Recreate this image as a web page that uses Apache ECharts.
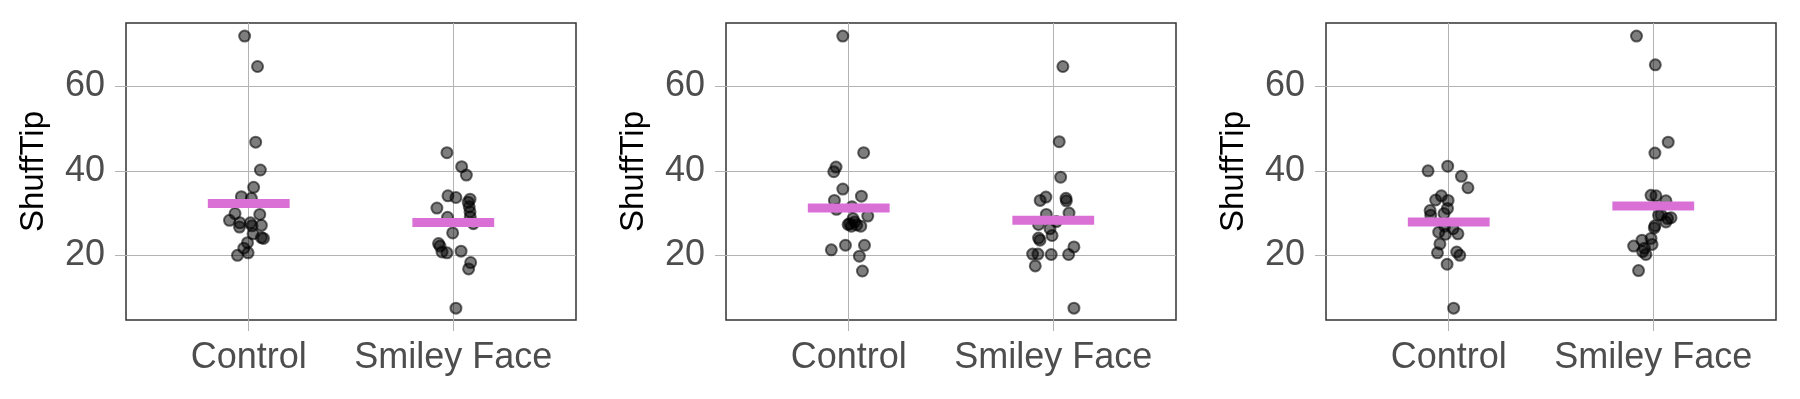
<!DOCTYPE html>
<html>
<head>
<meta charset="utf-8">
<script src="https://cdn.jsdelivr.net/npm/echarts@6/dist/echarts.min.js"></script>
<style>
  html, body { margin: 0; padding: 0; background: #fff; }
  #chart { width: 1800px; height: 399px; }
</style>
</head>
<body>
<div id="chart"></div>
<script>
// categories and tick labels
const groups = ["Control", "Smiley Face"];
const yTicks = [20, 40, 60];

// panel 1: values and horizontal jitter (x units)
const p1Control = [71.9, 64.7, 46.8, 40.2, 36.1, 33.9, 33.5, 29.7, 29.9, 28.3, 27.7, 26.7, 27.7, 27.0, 27.1, 25.1, 24.2, 24.0, 23.0, 21.7, 20.6, 20.0];
const p1ControlJit = [-0.020, 0.043, 0.034, 0.057, 0.024, -0.036, 0.013, 0.054, -0.067, -0.094, -0.043, -0.045, 0.008, 0.016, 0.062, 0.021, 0.062, 0.072, -0.006, -0.024, -0.003, -0.055];
const p1Smiley = [44.3, 41.0, 39.0, 34.1, 33.7, 33.3, 32.6, 31.5, 30.3, 29.1, 27.5, 31.2, 29.0, 25.3, 22.8, 22.2, 20.8, 20.6, 21.0, 18.3, 16.8, 7.5];
const p1SmileyJit = [-0.031, 0.041, 0.064, -0.026, 0.013, 0.082, 0.073, 0.078, 0.082, 0.083, 0.098, -0.080, -0.028, -0.003, -0.072, -0.065, -0.055, -0.031, 0.038, 0.085, 0.075, 0.013];
const p1Means = [32.3, 27.8];

// panel 2
const p2Control = [71.9, 44.3, 40.9, 39.8, 35.7, 34.0, 33.0, 30.9, 31.5, 29.3, 28.7, 27.5, 27.9, 26.9, 26.9, 27.3, 22.4, 22.4, 21.3, 19.8, 16.3, 27.2];
const p2ControlJit = [-0.029, 0.073, -0.062, -0.073, -0.029, 0.062, -0.070, -0.060, 0.016, 0.093, 0.021, 0.005, 0.029, 0.013, 0.059, -0.003, -0.016, 0.077, -0.085, 0.052, 0.067, 0.039];
const p2Smiley = [64.7, 46.9, 38.5, 33.8, 33.0, 33.5, 32.9, 29.7, 30.0, 27.3, 26.3, 24.7, 24.1, 23.6, 22.0, 20.2, 20.3, 20.3, 20.2, 17.5, 7.5, 28.0];
const p2SmileyJit = [0.047, 0.029, 0.036, -0.036, -0.064, 0.062, 0.064, -0.034, 0.077, -0.072, -0.016, -0.006, -0.072, -0.065, 0.101, 0.075, -0.101, -0.075, -0.010, -0.088, 0.101, 0.015];
const p2Means = [31.2, 28.3];

// panel 3
const p3Control = [40.0, 41.1, 38.7, 36.0, 34.1, 33.1, 33.0, 30.6, 31.1, 29.9, 29.5, 26.9, 25.0, 25.1, 22.7, 20.6, 20.8, 20.0, 17.9, 7.5, 26.3, 25.5];
const p3ControlJit = [-0.101, -0.005, 0.062, 0.094, -0.036, -0.064, -0.003, -0.091, -0.006, -0.023, -0.088, -0.020, -0.016, 0.045, -0.043, -0.055, 0.039, 0.054, -0.008, 0.024, 0.021, -0.049];
const p3Smiley = [71.9, 65.1, 46.8, 44.2, 34.2, 34.1, 32.9, 29.6, 28.9, 27.9, 29.5, 27.0, 24.0, 23.6, 22.2, 22.6, 20.9, 20.2, 16.4, 28.7, 26.5, 21.7];
const p3SmileyJit = [-0.082, 0.010, 0.073, 0.008, -0.011, 0.013, 0.062, 0.038, 0.087, 0.062, 0.026, 0.008, -0.011, -0.055, -0.096, -0.006, -0.052, -0.036, -0.072, 0.070, 0.005, -0.043];
const p3Means = [27.9, 31.7];

const panels = [
  { control: p1Control, controlJit: p1ControlJit, smiley: p1Smiley, smileyJit: p1SmileyJit, means: p1Means },
  { control: p2Control, controlJit: p2ControlJit, smiley: p2Smiley, smileyJit: p2SmileyJit, means: p2Means },
  { control: p3Control, controlJit: p3ControlJit, smiley: p3Smiley, smileyJit: p3SmileyJit, means: p3Means }
];

const font = "Liberation Sans, Arial, sans-serif";
const gridColor = "#b3b3b3";

const chart = echarts.init(document.getElementById("chart"), null, { renderer: "canvas" });

const grids = [], xAxes = [], yAxes = [], series = [];

panels.forEach(function (p, i) {
  grids.push({
    left: 126 + 600 * i, top: 23, width: 450, height: 297,
    show: true, borderColor: "#333333", borderWidth: 1.5, backgroundColor: "transparent"
  });
  xAxes.push({
    gridIndex: i, type: "value", min: 0.4, max: 2.6,
    axisLine: { show: false },
    axisTick: { show: true, length: 11, customValues: [1, 2], lineStyle: { color: gridColor, width: 1 } },
    axisLabel: {
      customValues: [1, 2],
      formatter: function (v) { return groups[Math.round(v) - 1]; },
      fontSize: 36, color: "#4d4d4d", margin: 20, fontFamily: font
    },
    splitLine: { show: true, lineStyle: { color: gridColor, width: 1 } }
  });
  yAxes.push({
    gridIndex: i, type: "value", min: 4.7, max: 75,
    name: "ShuffTip", nameLocation: "middle", nameGap: 76,
    nameTextStyle: { fontSize: 33, color: "#000", fontFamily: font },
    axisLine: { show: false },
    axisTick: { show: true, length: 11, customValues: yTicks, lineStyle: { color: gridColor, width: 1 } },
    axisLabel: { customValues: yTicks, fontSize: 36, color: "#4d4d4d", margin: 21, fontFamily: font },
    splitLine: { show: true, lineStyle: { color: gridColor, width: 1 } }
  });

  const pointStyle = {
    color: "rgba(0,0,0,0.64)",
    borderColor: "rgba(0,0,0,0.72)",
    borderWidth: 2
  };
  series.push({
    type: "scatter", xAxisIndex: i, yAxisIndex: i, symbolSize: 11, z: 3,
    itemStyle: pointStyle,
    data: p.control.map(function (v, k) { return [1 + p.controlJit[k], v]; })
  });
  series.push({
    type: "scatter", xAxisIndex: i, yAxisIndex: i, symbolSize: 11, z: 3,
    itemStyle: pointStyle,
    data: p.smiley.map(function (v, k) { return [2 + p.smileyJit[k], v]; })
  });
  // mean bars
  p.means.forEach(function (m, g) {
    series.push({
      type: "line", xAxisIndex: i, yAxisIndex: i, z: 5,
      showSymbol: false, symbol: "none", silent: true,
      lineStyle: { color: "#da70d6", width: 9, cap: "butt" },
      data: [[g + 1 - 0.2, m], [g + 1 + 0.2, m]]
    });
  });
});

chart.setOption({
  backgroundColor: "#ffffff",
  animation: false,
  grid: grids,
  xAxis: xAxes,
  yAxis: yAxes,
  series: series
});
</script>
</body>
</html>
